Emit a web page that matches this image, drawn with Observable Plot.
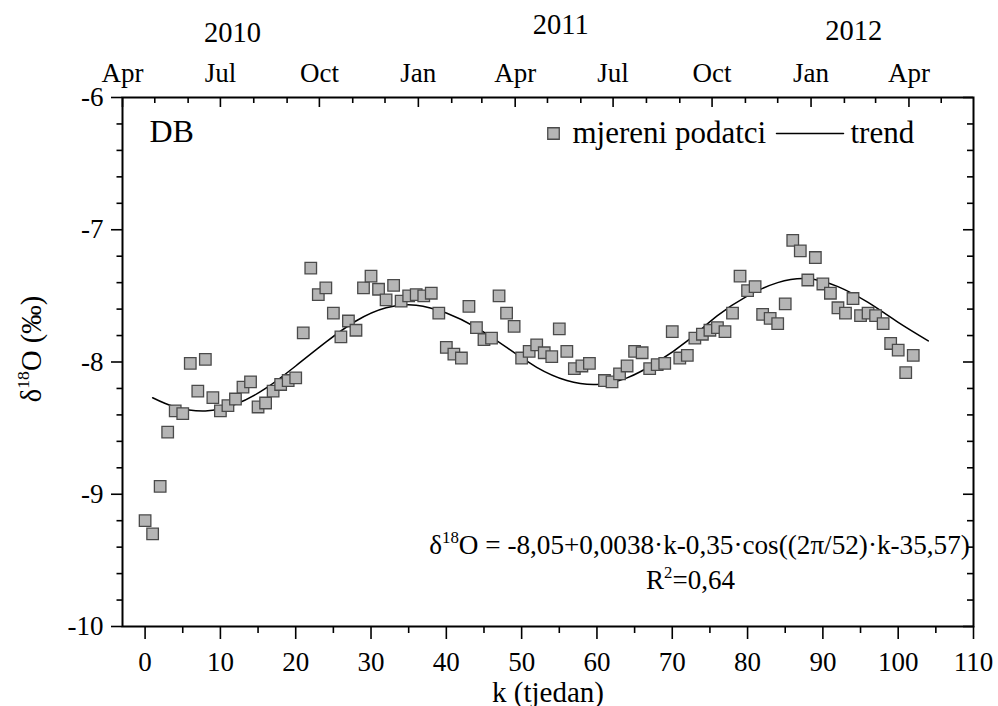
<!DOCTYPE html>
<html>
<head>
<meta charset="utf-8">
<script src="https://cdn.jsdelivr.net/npm/d3@7"></script>
<script src="https://cdn.jsdelivr.net/npm/@observablehq/plot@0.6"></script>
<style>
  html, body { margin: 0; padding: 0; background: #fff; }
  #chart { width: 998px; height: 706px; }
  #chart svg text { font-family: "Liberation Serif", "Times New Roman", Times, serif !important; }
</style>
</head>
<body>
<div id="chart"></div>
<script>
// ---------- data ----------
const weeks = [0,1,2,3,4,5,6,7,8,9,10,11,12,13,14,15,16,17,18,19,20,
  21,22,23,24,25,26,27,28,29,30,31,32,33,34,35,36,37,38,39,40,
  41,42,43,44,45,46,47,48,49,50,51,52,53,54,55,56,57,58,59,
  61,62,63,64,65,66,67,68,69,70,71,72,73,74,75,76,77,78,79,80,
  81,82,83,84,85,86,87,88,89,90,91,92,93,94,95,96,97,98,99,100,101,102];
const delta18O = [-9.20,-9.30,-8.94,-8.53,-8.37,-8.39,-8.01,-8.22,-7.98,-8.27,-8.37,-8.33,-8.28,-8.19,-8.15,-8.34,-8.31,-8.22,-8.17,-8.14,-8.12,
  -7.78,-7.29,-7.49,-7.44,-7.63,-7.81,-7.69,-7.76,-7.44,-7.35,-7.45,-7.53,-7.42,-7.54,-7.50,-7.49,-7.50,-7.48,-7.63,-7.89,
  -7.94,-7.97,-7.58,-7.74,-7.83,-7.82,-7.50,-7.63,-7.73,-7.97,-7.92,-7.87,-7.93,-7.96,-7.75,-7.92,-8.05,-8.03,-8.01,
  -8.14,-8.15,-8.09,-8.03,-7.92,-7.93,-8.05,-8.02,-8.01,-7.77,-7.97,-7.95,-7.82,-7.79,-7.76,-7.74,-7.77,-7.63,-7.35,-7.46,
  -7.43,-7.64,-7.67,-7.71,-7.56,-7.08,-7.16,-7.38,-7.21,-7.41,-7.48,-7.59,-7.63,-7.52,-7.65,-7.63,-7.65,-7.71,-7.86,-7.91,-8.08,-7.95];

// trend curve
const trendWeeks = [1,4,8,12,16,20,24,28,32,36,40,44,48,52,56,60,64,68,72,76,80,84,88,92,96,100,104];
const trendValues = [-8.27,-8.34,-8.37,-8.32,-8.20,-8.03,-7.85,-7.69,-7.59,-7.57,-7.63,-7.74,-7.89,-8.04,-8.14,-8.17,-8.12,-8.00,-7.84,-7.65,-7.50,-7.40,-7.37,-7.43,-7.55,-7.70,-7.84];

// axis ticks
const xMajorTicks = [0,10,20,30,40,50,60,70,80,90,100,110];
const xMinorTicks = [5,15,25,35,45,55,65,75,85,95,105];
const yMajorTicks = [-10,-9,-8,-7,-6];
const yMinorTicks = [-9.8,-9.6,-9.4,-9.2,-8.8,-8.6,-8.4,-8.2,-7.8,-7.6,-7.4,-7.2,-6.8,-6.6,-6.4,-6.2];
const quarterNames = {0: "Jan", 3: "Apr", 6: "Jul", 9: "Oct"};
const yearLabels = ["2010", "2011", "2012"];
const weekZeroDate = Date.UTC(2010, 3, 22);   // k = 0
const firstMonth = Date.UTC(2010, 3, 1);
const lastMonth = Date.UTC(2012, 5, 2);

const legendLabels = ["mjereni podatci", "trend"];
const panelLabel = "DB";
const equationText = "δ^18^O = -8,05+0,0038·k-0,35·cos((2π/52)·k-35,57)";
const r2Text = "R^2^=0,64";
const yTitle = "δ^18^O (‰)";
const xTitle = "k (tjedan)";

// ---------- layout ----------
const W = 998, H = 706;
const M = {top: 97, right: 25, bottom: 80, left: 122};
const frameW = W - M.left - M.right;
const frameH = H - M.top - M.bottom;
const yearLayout = [{k: 11.6, dy: -76}, {k: 55.2, dy: -84}, {k: 94.1, dy: -77.5}];

// ---------- build tables ----------
const points = weeks.map((k, i) => ({k, v: delta18O[i]}));
const trend = trendWeeks.map((k, i) => ({k, v: trendValues[i]}));
const toWeek = t => (t - weekZeroDate) / (7 * 864e5);
const months = d3.utcMonth.range(new Date(firstMonth), new Date(lastMonth))
  .map(d => ({k: toWeek(+d), m: d.getUTCMonth()}))
  .filter(d => d.k >= -3.001 && d.k <= 110.001);
const monthMajor = months.filter(d => d.m % 3 === 0).map(d => ({...d, label: quarterNames[d.m]}));
const monthMinor = months.filter(d => d.m % 3 !== 0);

const lineShape = {draw(ctx, l) { ctx.moveTo(0, 0); ctx.lineTo(l, 0); }};
const axisStroke = 1.6;

const yearMarks = yearLabels.map((label, i) =>
  Plot.text([{label, k: yearLayout[i].k}], {x: "k", text: "label", frameAnchor: "top", dy: yearLayout[i].dy, textAnchor: "middle", fontSize: 28.5}));

const chart = Plot.plot({
  width: W, height: H,
  marginTop: M.top, marginRight: M.right, marginBottom: M.bottom, marginLeft: M.left,
  x: {domain: [-3, 110], label: null},
  y: {domain: [-10, -6], label: null},
  style: {fontSize: "27px", background: "#fff", color: "#000", overflow: "visible"},
  marks: [
    // bottom axis (outward ticks)
    Plot.axisX(xMajorTicks, {anchor: "bottom", tickSize: 13, tickPadding: 12, tickFormat: d => String(d), strokeWidth: axisStroke, label: null}),
    Plot.axisX(xMinorTicks, {anchor: "bottom", tickSize: 7, tickFormat: () => "", strokeWidth: axisStroke, label: null}),
    // left axis (outward ticks)
    Plot.axisY(yMajorTicks, {anchor: "left", tickSize: 11, tickPadding: 8, tickFormat: d => String(d), strokeWidth: axisStroke, label: null}),
    Plot.axisY(yMinorTicks, {anchor: "left", tickSize: 5.5, tickFormat: () => "", strokeWidth: axisStroke, label: null}),
    // top axis (inward ticks, months)
    Plot.tickX(monthMajor, {x: "k", insetBottom: frameH - 10, stroke: "#000", strokeWidth: axisStroke}),
    Plot.tickX(monthMinor, {x: "k", insetBottom: frameH - 6, stroke: "#000", strokeWidth: axisStroke}),
    // right axis (inward ticks)
    Plot.tickY(yMajorTicks, {y: d => d, insetLeft: frameW - 10, stroke: "#000", strokeWidth: axisStroke}),
    Plot.tickY(yMinorTicks, {y: d => d, insetLeft: frameW - 6, stroke: "#000", strokeWidth: axisStroke}),
    Plot.text(monthMajor, {x: "k", text: "label", frameAnchor: "top", dy: -35, textAnchor: "middle", fontSize: 27}),
    ...yearMarks,
    Plot.frame({stroke: "#000", strokeWidth: 2}),
    // data
    Plot.line(trend, {x: "k", y: "v", curve: "natural", stroke: "#000", strokeWidth: 1.5}),
    Plot.dot(points, {x: "k", y: "v", symbol: "square", r: 6.5, fill: "#b5b5b5", stroke: "#4a4a4a", strokeWidth: 1.3}),
    // legend
    Plot.dot([legendLabels[0]], {frameAnchor: "top-left", dx: 431, dy: 36, symbol: "square", r: 6.5, fill: "#b5b5b5", stroke: "#4a4a4a", strokeWidth: 1.3}),
    Plot.text([legendLabels[0]], {frameAnchor: "top-left", dx: 450, dy: 36, textAnchor: "start", lineAnchor: "middle", fontSize: 31}),
    Plot.vector([legendLabels[1]], {frameAnchor: "top-left", dx: 654, dy: 36, length: 67, anchor: "start", shape: lineShape, stroke: "#000", strokeWidth: 1.5}),
    Plot.text([legendLabels[1]], {frameAnchor: "top-left", dx: 728, dy: 36, textAnchor: "start", lineAnchor: "middle", fontSize: 31}),
    // annotations
    Plot.text([panelLabel], {frameAnchor: "top-left", dx: 27, dy: 34.5, textAnchor: "start", lineAnchor: "middle", fontSize: 32}),
    Plot.text([equationText], {frameAnchor: "top-left", dx: 577, dy: 448, textAnchor: "middle", lineAnchor: "middle", fontSize: 27.2}),
    Plot.text([r2Text], {frameAnchor: "top-left", dx: 568, dy: 483, textAnchor: "middle", lineAnchor: "middle", fontSize: 27}),
    // axis titles
    Plot.text([yTitle], {frameAnchor: "left", dx: -91, dy: -13, rotate: -90, textAnchor: "middle", lineAnchor: "middle", fontSize: 28.5}),
    Plot.text([xTitle], {frameAnchor: "bottom", dy: 66, textAnchor: "middle", lineAnchor: "middle", fontSize: 29})
  ]
});

document.getElementById("chart").appendChild(chart);

// turn ^..^ segments into real superscripts
d3.select(chart).selectAll("text").filter(function() { return this.textContent.includes("^"); }).each(function() {
  const fs = parseFloat(getComputedStyle(this).fontSize) || 26;
  const parts = this.textContent.split("^");
  const el = d3.select(this);
  el.text(null);
  const shift = 0.42 * fs;
  let raised = false;
  parts.forEach((p, i) => {
    const sup = i % 2 === 1;
    if (!p) return;
    const t = el.append("tspan").text(p);
    if (sup && !raised) { t.attr("dy", -shift).attr("font-size", 0.62 * fs); raised = true; }
    else if (!sup && raised) { t.attr("dy", shift); raised = false; }
  });
});
</script>
</body>
</html>
